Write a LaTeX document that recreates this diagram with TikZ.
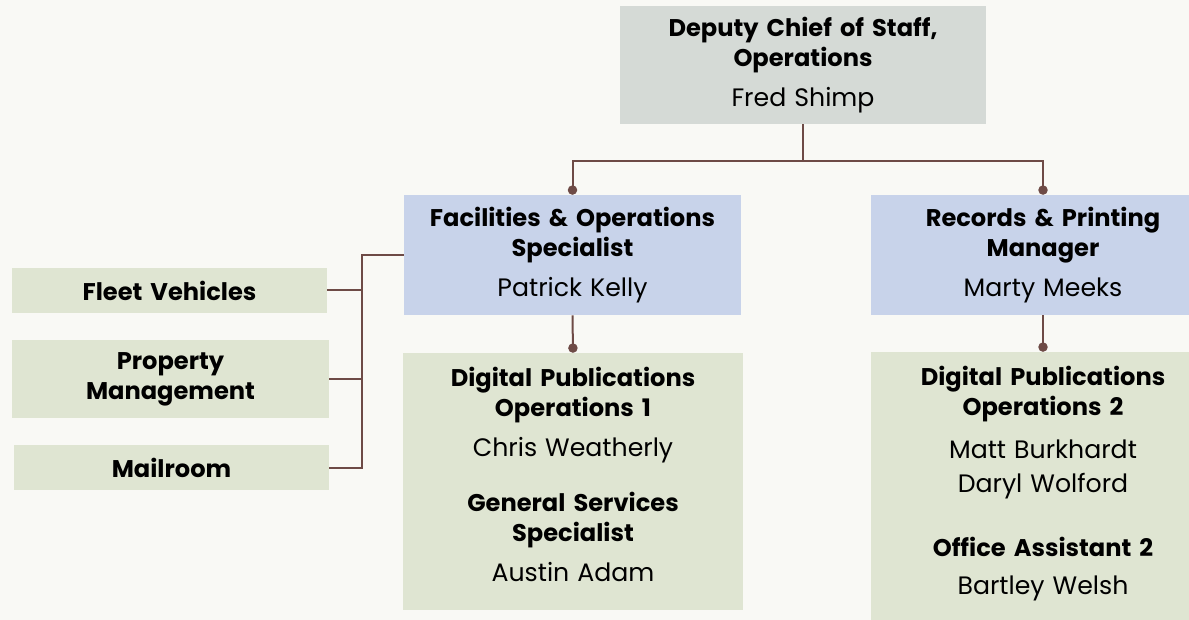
\documentclass[tikz,border=0pt]{standalone}
\usepackage{fontspec}
\setmainfont{Poppins}
\usepackage{tikz}
\usetikzlibrary{arrows.meta}
\definecolor{bgcol}{HTML}{F9F9F5}
\definecolor{graycol}{HTML}{D5DAD6}
\definecolor{bluecol}{HTML}{C8D3EA}
\definecolor{greencol}{HTML}{DFE5D2}
\definecolor{linecol}{HTML}{6E4B46}
\newcommand{\pname}[1]{{\fontsize{18.9}{22.5}\selectfont\mdseries #1}}

\begin{document}
\begin{tikzpicture}[x=0.75pt,y=-0.75pt,
	box/.style={inner sep=0pt,align=center,font=\fontsize{18.1}{22.5}\selectfont\bfseries},
	link/.style={draw=linecol,line width=1.5pt},
	dotlink/.style={link,-{Circle[length=7pt]}}]
	\fill[bgcol] (0,0) rectangle (1189,620);
	\useasboundingbox (0,0) rectangle (1189,620);
			% top
			\node[box,fill=graycol,minimum width=366*0.75pt,minimum height=118*0.75pt,text width=340*0.75pt] (chief) at (803,65)
				{Deputy Chief of Staff,\\Operations\\[7.5pt]\pname{Fred Shimp}};
			% second row
			\node[box,fill=bluecol,minimum width=337*0.75pt,minimum height=120*0.75pt,text width=330*0.75pt] (fac) at (572.5,255)
				{Facilities \& Operations\\Specialist\\[7.5pt]\pname{Patrick Kelly}};
			\node[box,fill=bluecol,minimum width=344*0.75pt,minimum height=120*0.75pt,text width=330*0.75pt] (rec) at (1043,255)
				{Records \& Printing\\Manager\\[7.5pt]\pname{Marty Meeks}};
			% left side
			\node[box,fill=greencol,minimum width=315*0.75pt,minimum height=45*0.75pt,text width=300*0.75pt] (fleet) at (169.5,290.5)
				{Fleet Vehicles};
			\node[box,fill=greencol,minimum width=317*0.75pt,minimum height=78*0.75pt,text width=300*0.75pt] (prop) at (170.5,379)
				{Property\\Management};
			\node[box,fill=greencol,minimum width=315*0.75pt,minimum height=45*0.75pt,text width=300*0.75pt] (mail) at (171.5,467.5)
				{Mailroom};
			% bottom row
			\node[box,fill=greencol,minimum width=340*0.75pt,minimum height=257*0.75pt] (dpa) at (573,481.5) {};
			\node[box,text width=330*0.75pt] (dpatext) at ([yshift=5.25pt]dpa.center)
				{Digital Publications\\Operations 1\\[7.5pt]\pname{Chris Weatherly}\\[18.75pt]General Services\\Specialist\\[7.5pt]\pname{Austin Adam}};
			\node[box,fill=greencol,minimum width=344*0.75pt,minimum height=288*0.75pt] (dpb) at (1043,496) {};
			\node[box,text width=330*0.75pt] (dpbtext) at ([yshift=9pt]dpb.center)
				{Digital Publications\\Operations 2\\[9.75pt]\pname{Matt Burkhardt}\\[3pt]\pname{Daryl Wolford}\\[25.5pt]Office Assistant 2\\[6pt]\pname{Bartley Welsh}};
			% connectors
			\coordinate (split) at (803,161);
			\draw[link] (chief.south) -- (split);
			\draw[dotlink] (split) -| (fac.north);
			\draw[dotlink] (split) -| (rec.north);
			\draw[dotlink] (fac.south) -- (dpa.north);
			\draw[dotlink] (rec.south) -- (dpb.north);
			\coordinate (bus) at (362,0);
			\draw[link] (fac.west) -| (bus |- mail.east) -- (mail.east);
			\draw[link] (fleet.east) -- (fleet.east -| bus);
			\draw[link] (prop.east) -- (prop.east -| bus);
	\end{tikzpicture}
\end{document}
